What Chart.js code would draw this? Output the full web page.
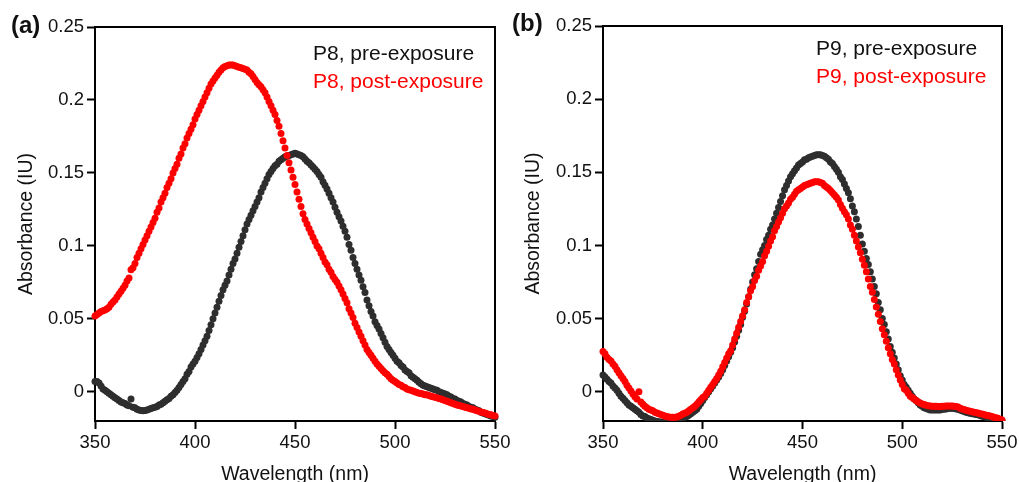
<!DOCTYPE html>
<html><head><meta charset="utf-8">
<script src="https://cdn.jsdelivr.net/npm/chart.js@4.4.1/dist/chart.umd.min.js"></script>
<style>
html,body{margin:0;padding:0;background:#fff;width:1019px;height:482px;overflow:hidden;}
canvas{position:absolute;top:0;}
#ca{left:0;} #cb{left:500px;}
</style></head><body>
<canvas id="ca" width="530" height="482"></canvas>
<canvas id="cb" width="519" height="482"></canvas>
<script>
// Wavelength grid (nm), 1 nm sampling from 350 to 550
const wavelengths = Array.from({length: 201}, (_, i) => 350 + i);

// Panel (a) P8
const p8Pre = [
 0.007, 0.007, 0.006, 0.004, 0.002, 0.001, 0.000, -0.001, -0.002, -0.003, -0.004,
 -0.005, -0.006, -0.007, -0.0075, -0.008, -0.009, -0.0095, -0.005, -0.0105, -0.011,
 -0.012, -0.0125, -0.0128, -0.013, -0.0128, -0.0125, -0.012, -0.0115, -0.011, -0.0105,
 -0.010, -0.009, -0.0085, -0.0075, -0.0065, -0.0055, -0.0045, -0.003, -0.002, -0.0005,
 0.001, 0.003, 0.005, 0.007, 0.009, 0.012, 0.014, 0.017, 0.019, 0.021,
 0.0235, 0.026, 0.029, 0.032, 0.035, 0.038, 0.042, 0.046, 0.050, 0.054,
 0.058, 0.062, 0.066, 0.070, 0.073, 0.076, 0.080, 0.084, 0.088, 0.091,
 0.095, 0.099, 0.103, 0.107, 0.111, 0.115, 0.118, 0.121, 0.124, 0.127,
 0.130, 0.133, 0.137, 0.140, 0.143, 0.146, 0.149, 0.151, 0.153, 0.155,
 0.156, 0.158, 0.159, 0.160, 0.161, 0.1615, 0.162, 0.1625, 0.163, 0.1635,
 0.163, 0.1625, 0.162, 0.161, 0.1595, 0.158, 0.157, 0.1555, 0.154, 0.1525,
 0.151, 0.149, 0.147, 0.144, 0.1415, 0.139, 0.136, 0.133, 0.130, 0.1265,
 0.123, 0.120, 0.117, 0.1135, 0.110, 0.106, 0.101, 0.097, 0.092, 0.088,
 0.084, 0.080, 0.0765, 0.072, 0.068, 0.063, 0.059, 0.055, 0.052, 0.048,
 0.0455, 0.043, 0.040, 0.037, 0.034, 0.031, 0.029, 0.027, 0.025, 0.023,
 0.021, 0.020, 0.018, 0.017, 0.015, 0.014, 0.013, 0.011, 0.010, 0.009,
 0.008, 0.0065, 0.0055, 0.0045, 0.004, 0.0035, 0.003, 0.0025, 0.002, 0.0015,
 0.001, 0.000, -0.0005, -0.001, -0.0015, -0.002, -0.003, -0.0035, -0.0045, -0.005,
 -0.006, -0.0065, -0.007, -0.008, -0.0085, -0.009, -0.010, -0.0105, -0.011, -0.012,
 -0.0125, -0.013, -0.014, -0.0145, -0.015, -0.0155, -0.016, -0.0165, -0.017, -0.0175
];
const p8Post = [
 0.052, 0.053, 0.054, 0.055, 0.0555, 0.056, 0.057, 0.058, 0.060, 0.0615, 0.063,
 0.065, 0.067, 0.069, 0.071, 0.073, 0.076, 0.078, 0.0836, 0.085, 0.088,
 0.092, 0.095, 0.098, 0.101, 0.104, 0.107, 0.110, 0.113, 0.116, 0.119,
 0.123, 0.126, 0.130, 0.133, 0.136, 0.140, 0.143, 0.146, 0.150, 0.153,
 0.156, 0.160, 0.163, 0.167, 0.170, 0.174, 0.177, 0.180, 0.183, 0.187,
 0.190, 0.193, 0.196, 0.199, 0.202, 0.205, 0.208, 0.211, 0.213, 0.215,
 0.217, 0.219, 0.2205, 0.222, 0.223, 0.2235, 0.224, 0.224, 0.224, 0.2235,
 0.223, 0.2225, 0.222, 0.2215, 0.221, 0.2205, 0.219, 0.218, 0.216, 0.214,
 0.212, 0.2105, 0.209, 0.207, 0.205, 0.202, 0.199, 0.196, 0.193, 0.190,
 0.186, 0.182, 0.177, 0.172, 0.167, 0.162, 0.157, 0.152, 0.147, 0.142,
 0.137, 0.132, 0.127, 0.122, 0.118, 0.115, 0.112, 0.109, 0.106, 0.103,
 0.100, 0.098, 0.095, 0.092, 0.089, 0.087, 0.084, 0.082, 0.079, 0.077,
 0.075, 0.0725, 0.070, 0.067, 0.064, 0.061, 0.057, 0.054, 0.051, 0.047,
 0.044, 0.041, 0.038, 0.035, 0.032, 0.029, 0.027, 0.025, 0.023, 0.021,
 0.019, 0.0175, 0.016, 0.0145, 0.013, 0.012, 0.0105, 0.009, 0.008, 0.007,
 0.006, 0.005, 0.0045, 0.0035, 0.003, 0.002, 0.0015, 0.001, 0.0005, 0.000,
 -0.0005, -0.001, -0.0012, -0.0015, -0.002, -0.002, -0.0025, -0.003, -0.0033, -0.0037,
 -0.004, -0.0045, -0.005, -0.0055, -0.006, -0.0065, -0.007, -0.0075, -0.008, -0.0085,
 -0.009, -0.0093, -0.0097, -0.010, -0.0105, -0.011, -0.0113, -0.0117, -0.012, -0.0125,
 -0.013, -0.0134, -0.0138, -0.0142, -0.0146, -0.015, -0.0155, -0.0158, -0.0162, -0.0166
];

// Panel (b) P9
const p9Pre = [
 0.0115, 0.010, 0.0085, 0.007, 0.006, 0.004, 0.0025, 0.001, -0.001, -0.003, -0.0045,
 -0.006, -0.0075, -0.009, -0.010, -0.011, -0.012, -0.013, -0.014, -0.0155, -0.0165,
 -0.017, -0.018, -0.0185, -0.019, -0.0195, -0.020, -0.0203, -0.0205, -0.0207, -0.0208,
 -0.0208, -0.0207, -0.0205, -0.0203, -0.020, -0.0198, -0.0195, -0.019, -0.0185, -0.018,
 -0.0175, -0.017, -0.016, -0.015, -0.014, -0.013, -0.012, -0.010, -0.008, -0.006,
 -0.004, -0.002, 0.000, 0.002, 0.004, 0.006, 0.008, 0.010, 0.0125, 0.015,
 0.018, 0.021, 0.024, 0.027, 0.030, 0.034, 0.038, 0.042, 0.046, 0.051,
 0.055, 0.060, 0.065, 0.070, 0.075, 0.080, 0.084, 0.089, 0.094, 0.097,
 0.100, 0.104, 0.107, 0.111, 0.114, 0.118, 0.122, 0.126, 0.130, 0.134,
 0.138, 0.141, 0.144, 0.147, 0.149, 0.151, 0.153, 0.155, 0.156, 0.157,
 0.1585, 0.159, 0.160, 0.1605, 0.161, 0.1615, 0.162, 0.162, 0.162, 0.1615,
 0.161, 0.160, 0.159, 0.157, 0.156, 0.154, 0.152, 0.150, 0.147, 0.145,
 0.142, 0.139, 0.136, 0.132, 0.127, 0.123, 0.118, 0.113, 0.107, 0.101,
 0.096, 0.091, 0.087, 0.082, 0.077, 0.072, 0.067, 0.061, 0.056, 0.050,
 0.046, 0.041, 0.036, 0.031, 0.027, 0.023, 0.019, 0.015, 0.011, 0.008,
 0.005, 0.003, 0.001, -0.001, -0.003, -0.005, -0.006, -0.0075, -0.009, -0.010,
 -0.011, -0.0115, -0.012, -0.0125, -0.0125, -0.0125, -0.0125, -0.0125, -0.0125, -0.012,
 -0.012, -0.0118, -0.0115, -0.0113, -0.0113, -0.0115, -0.0118, -0.012, -0.0125, -0.013,
 -0.0135, -0.014, -0.0143, -0.0147, -0.015, -0.0153, -0.0155, -0.0158, -0.0162, -0.0167,
 -0.017, -0.0175, -0.018, -0.0185, -0.019, -0.0193, -0.0195, -0.0198, -0.020, -0.0202
];
const p9Post = [
 0.0275, 0.026, 0.0235, 0.022, 0.021, 0.019, 0.0175, 0.015, 0.013, 0.011, 0.009,
 0.007, 0.0045, 0.0025, 0.0005, -0.0015, -0.0035, -0.005, 0.000, -0.007, -0.0085,
 -0.010, -0.011, -0.012, -0.0125, -0.013, -0.014, -0.0145, -0.015, -0.0155, -0.016,
 -0.0165, -0.017, -0.0172, -0.0174, -0.0175, -0.0175, -0.0172, -0.0168, -0.016, -0.0153,
 -0.0147, -0.014, -0.013, -0.012, -0.011, -0.010, -0.0085, -0.007, -0.0055, -0.004,
 -0.003, -0.001, 0.001, 0.003, 0.005, 0.007, 0.009, 0.0115, 0.014, 0.017,
 0.020, 0.023, 0.026, 0.028, 0.032, 0.036, 0.040, 0.044, 0.048, 0.052,
 0.056, 0.061, 0.065, 0.069, 0.072, 0.076, 0.079, 0.083, 0.086, 0.089,
 0.093, 0.096, 0.0995, 0.103, 0.106, 0.110, 0.113, 0.116, 0.119, 0.122,
 0.125, 0.127, 0.129, 0.1315, 0.133, 0.135, 0.137, 0.138, 0.139, 0.140,
 0.141, 0.1415, 0.142, 0.1425, 0.143, 0.1435, 0.1435, 0.1435, 0.143, 0.1425,
 0.141, 0.140, 0.139, 0.1375, 0.136, 0.1345, 0.133, 0.131, 0.128, 0.1255,
 0.123, 0.121, 0.118, 0.114, 0.111, 0.107, 0.103, 0.099, 0.095, 0.0905,
 0.0865, 0.082, 0.077, 0.072, 0.068, 0.063, 0.058, 0.053, 0.048, 0.043,
 0.039, 0.0345, 0.030, 0.026, 0.022, 0.019, 0.015, 0.0115, 0.008, 0.005,
 0.002, 0.001, -0.001, -0.003, -0.004, -0.005, -0.006, -0.007, -0.0077, -0.0083,
 -0.0088, -0.0092, -0.0095, -0.0097, -0.0099, -0.010, -0.010, -0.0101, -0.0101, -0.010,
 -0.0099, -0.0098, -0.0097, -0.0097, -0.0098, -0.0099, -0.0101, -0.0105, -0.0112, -0.0118,
 -0.0122, -0.0126, -0.013, -0.0133, -0.0137, -0.014, -0.0143, -0.0146, -0.015, -0.0153,
 -0.0156, -0.016, -0.0163, -0.0166, -0.017, -0.0174, -0.0178, -0.0182, -0.0188, -0.0193
];

const xTicks = [350, 400, 450, 500, 550];
const yTicks = [0, 0.05, 0.1, 0.15, 0.2, 0.25];
const yTickLabels = ['0', '0.05', '0.1', '0.15', '0.2', '0.25'];
const xRange = [350, 550];
const yRange = [-0.02, 0.25];

const FONT = "'Liberation Sans', Arial, Helvetica, sans-serif";
const BLACK_DOT = '#2e2e2e';
const RED_DOT = '#ff0000';

const decor = {
  id: 'decor',
  beforeDatasetsDraw(chart, args, o) {
    const a = chart.chartArea, ctx = chart.ctx;
    ctx.save();
    ctx.strokeStyle = '#000';
    ctx.lineWidth = 2;
    ctx.strokeRect(a.left, a.top, a.right - a.left, a.bottom - a.top);
    ctx.restore();
  },
  afterDraw(chart, args, o) {
    const ctx = chart.ctx;
    ctx.save();
    ctx.textBaseline = 'middle';
    ctx.textAlign = 'left';
    ctx.font = o.legendFont;
    chart.data.datasets.forEach((ds, i) => {
      ctx.fillStyle = ds.legendColor;
      ctx.fillText(ds.label, o.legendX, o.legendY + i * o.legendGap);
    });
    ctx.fillStyle = '#111';
    ctx.font = o.panelFont;
    ctx.fillText(o.panel, o.panelX, o.panelY);
    ctx.restore();
  }
};

function makeChart(id, pre, post, preLabel, postLabel, lay) {
  const toPts = arr => wavelengths.map((w, i) => ({x: w, y: arr[i]}));
  return new Chart(document.getElementById(id), {
    type: 'scatter',
    data: {
      datasets: [
        {label: preLabel, data: toPts(pre), backgroundColor: BLACK_DOT, legendColor: '#111',
         pointRadius: 3.5, pointBorderWidth: 0, borderWidth: 0, order: 1,
         clip: {left: 6, right: 6, top: 0, bottom: 0}},
        {label: postLabel, data: toPts(post), backgroundColor: RED_DOT, legendColor: RED_DOT,
         pointRadius: 3.5, pointBorderWidth: 0, borderWidth: 0, order: 0,
         clip: {left: 6, right: 6, top: 0, bottom: 0}}
      ]
    },
    options: {
      responsive: false, animation: false, devicePixelRatio: 1,
      layout: {padding: {left: 0, right: lay.padRight, top: lay.padTop, bottom: 0}},
      plugins: {
        legend: {display: false}, tooltip: {enabled: false},
        decor: lay.decor
      },
      scales: {
        x: {
          type: 'linear', min: xRange[0], max: xRange[1],
          afterBuildTicks: s => { s.ticks = xTicks.map(v => ({value: v})); },
          afterFit: s => { s.height = lay.xHeight; s.paddingLeft = 0; s.paddingRight = 0; },
          ticks: {color: '#111', font: {family: FONT, size: 18.5}, padding: 3, autoSkip: false, maxRotation: 0,
                  callback: v => String(v)},
          grid: {drawOnChartArea: false, drawTicks: true, tickLength: 8, tickWidth: 2, tickColor: '#000'},
          border: {display: true, color: '#000', width: 2},
          title: {display: true, text: 'Wavelength (nm)', color: '#111',
                  font: {family: FONT, size: 19.5}, padding: {top: 0, bottom: -4}}
        },
        y: {
          type: 'linear', min: yRange[0], max: yRange[1],
          afterBuildTicks: s => { s.ticks = yTicks.map(v => ({value: v})); },
          afterFit: s => { s.width = lay.yWidth; s.paddingTop = 0; s.paddingBottom = 0; },
          ticks: {color: '#111', font: {family: FONT, size: 18.5}, padding: 3,
                  callback: v => yTickLabels[yTicks.indexOf(v)]},
          grid: {drawOnChartArea: false, drawTicks: true, tickLength: 8, tickWidth: 2, tickColor: '#000'},
          border: {display: true, color: '#000', width: 2},
          title: {display: true, text: 'Absorbance (IU)', color: '#111',
                  font: {family: FONT, size: 19.5}, padding: {top: lay.yTitlePad, bottom: 0}}
        }
      }
    },
    plugins: [decor]
  });
}

makeChart('ca', p8Pre, p8Post, 'P8, pre-exposure', 'P8, post-exposure', {
  padRight: 35, padTop: 27, xHeight: 61, yWidth: 95, yTitlePad: 14.5,
  decor: {legendFont: "21px " + FONT, legendX: 313, legendY: 54, legendGap: 28.5,
          panel: '(a)', panelFont: "bold 24px " + FONT, panelX: 11, panelY: 26}
});
makeChart('cb', p9Pre, p9Post, 'P9, pre-exposure', 'P9, post-exposure', {
  padRight: 17, padTop: 26, xHeight: 61, yWidth: 103, yTitlePad: 22,
  decor: {legendFont: "21px " + FONT, legendX: 316, legendY: 49.5, legendGap: 28,
          panel: '(b)', panelFont: "bold 24px " + FONT, panelX: 12, panelY: 24}
});
</script>
</body></html>
